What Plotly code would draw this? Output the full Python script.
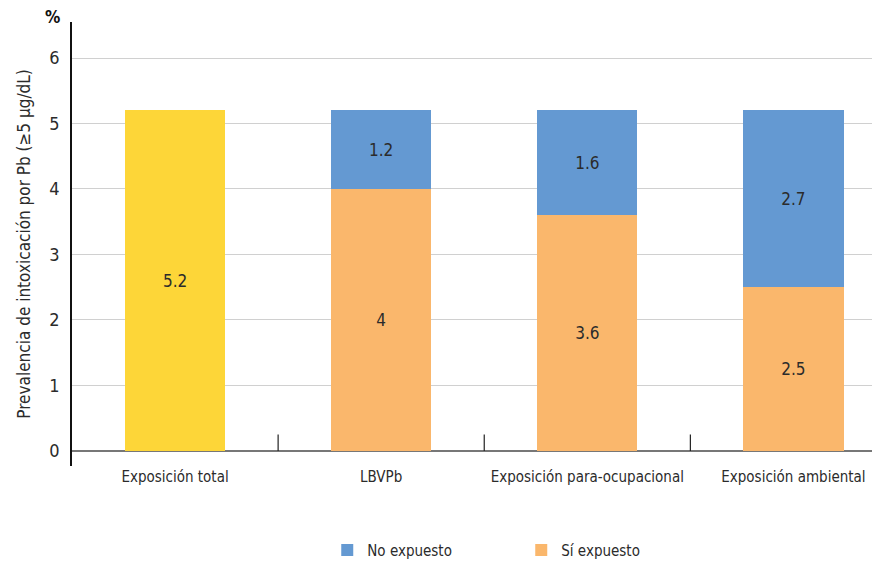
import plotly.graph_objects as go

# --- datos ---
categorias = ["Exposición total", "LBVPb", "Exposición para-ocupacional", "Exposición ambiental"]
total = [5.2]
si_expuesto = [4, 3.6, 2.5]
no_expuesto = [1.2, 1.6, 2.7]

FONT = "DejaVu Sans Condensed, Liberation Sans Narrow, Roboto, sans-serif"
AMARILLO = "#FDD638"
NARANJA = "#FAB76C"
AZUL = "#6499D2"
TXT = "#2b2b2b"

fig = go.Figure()
fig.add_trace(go.Bar(
    x=categorias[:1], y=total, name="Total", showlegend=False,
    marker=dict(color=AMARILLO, line_width=0),
    text=[str(v) for v in total], textposition="inside", insidetextanchor="middle",
    textfont=dict(color=TXT, size=17), width=0.486,
))
fig.add_trace(go.Bar(
    x=categorias[1:], y=si_expuesto, name="Sí expuesto",
    marker=dict(color=NARANJA, line_width=0),
    text=[str(v) for v in si_expuesto], textposition="inside", insidetextanchor="middle",
    textfont=dict(color=TXT, size=17), width=0.486,
))
fig.add_trace(go.Bar(
    x=categorias[1:], y=no_expuesto, name="No expuesto",
    marker=dict(color=AZUL, line_width=0),
    text=[str(v) for v in no_expuesto], textposition="inside", insidetextanchor="middle",
    textfont=dict(color=TXT, size=17), width=0.486,
))

# marcas entre categorías
for b in [0.5, 1.5, 2.5]:
    fig.add_shape(type="line", xref="x", yref="y", x0=b, x1=b, y0=0, y1=0.25,
                  line=dict(color="#222", width=1.2))

fig.add_annotation(text="<b>%</b>", xref="paper", yref="paper", x=-0.012, y=1.0,
                   xanchor="right", yanchor="middle", yshift=5, showarrow=False,
                   font=dict(size=17, color="#111", family=FONT))

# la página añade 8 px de margen al cuerpo: la figura se reduce en consecuencia
fig.update_layout(
    width=872, height=554,
    barmode="stack",
    paper_bgcolor="white", plot_bgcolor="white",
    font=dict(family=FONT, color=TXT, size=15),
    margin=dict(l=64, r=0, t=14, b=96, autoexpand=False),
    uniformtext=dict(minsize=10, mode="show"),
    legend=dict(
        orientation="h", traceorder="reversed", x=0.556, xanchor="center",
        y=-0.19, yanchor="middle", font=dict(size=15, color=TXT),
        entrywidth=149, itemsizing="constant",
    ),
)
fig.update_xaxes(
    range=[-0.5, 3.42], showline=False, showgrid=False, ticks="",
    tickfont=dict(size=15, color=TXT), fixedrange=True, automargin=False,
)
fig.update_yaxes(
    range=[-0.23, 6.55], dtick=1, tick0=0,
    showline=True, linecolor="#111", linewidth=1.5,
    showgrid=True, gridcolor="#d0d0d0", gridwidth=1,
    zeroline=True, zerolinecolor="#777", zerolinewidth=1.5,
    ticks="", ticklabelstandoff=7, tickfont=dict(size=18, color=TXT),
    automargin=False,
    title=dict(text="Prevalencia de intoxicación por Pb (≥5 µg/dL)", standoff=14,
               font=dict(size=17, color=TXT)),
)

fig.write_html("out.html")
